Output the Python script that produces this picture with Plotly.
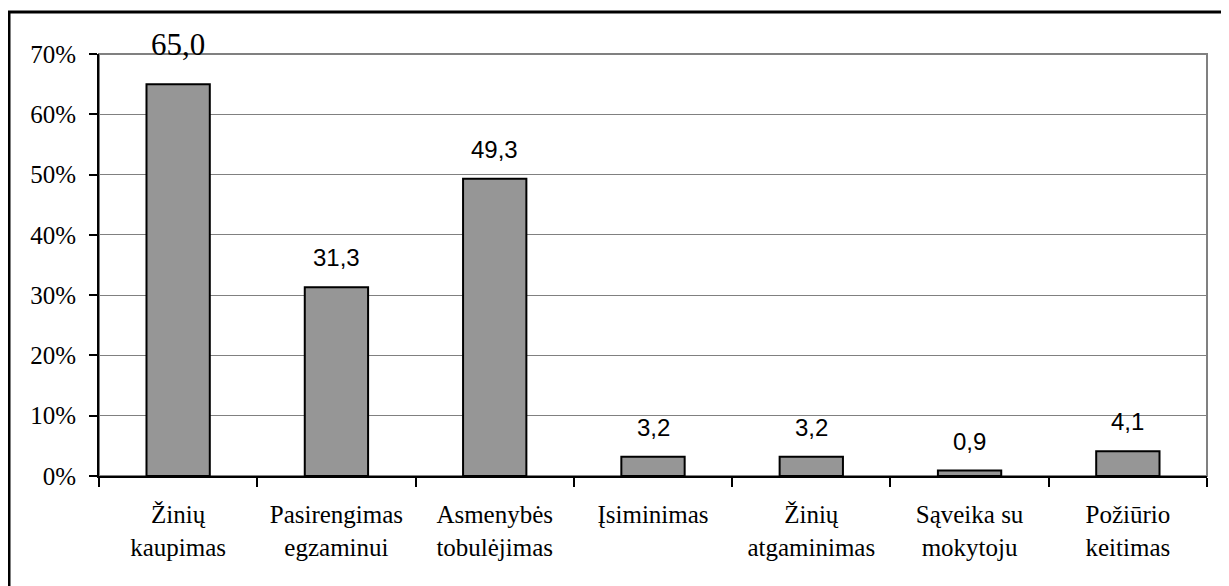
import plotly.graph_objects as go

categories = ["Žinių<br>kaupimas", "Pasirengimas<br>egzaminui", "Asmenybės<br>tobulėjimas",
              "Įsiminimas", "Žinių<br>atgaminimas", "Sąveika su<br>mokytoju", "Požiūrio<br>keitimas"]
values = [65.0, 31.3, 49.3, 3.2, 3.2, 0.9, 4.1]
labels = ["65,0", "31,3", "49,3", "3,2", "3,2", "0,9", "4,1"]
y_ticks = [0, 10, 20, 30, 40, 50, 60, 70]

OFF = 8  # page body margin
W, H = 1229 - OFF, 586 - OFF
L, T = 99 - OFF, 54 - OFF
pw, ph = 1108, 422
R = W - L - pw
B = H - T - ph

fig = go.Figure()
fig.add_trace(go.Bar(
    x=categories, y=values,
    marker=dict(color="#969696", line=dict(color="black", width=2)),
    hoverinfo="skip",
))

serif = "'Times New Roman', 'Liberation Serif', 'DejaVu Serif', serif"
sans = "Arial, 'Liberation Sans', sans-serif"
for i, (c, v, t) in enumerate(zip(categories, values, labels)):
    if i == 0:
        font = dict(family=serif, size=31, color="black")
        shift = 20
    else:
        font = dict(family=sans, size=24, color="black")
        shift = 14
    fig.add_annotation(x=c, y=v, text=t, showarrow=False, yanchor="bottom",
                       yshift=shift, font=font)

def px_x(p):
    return (p - OFF - L) / pw

def px_y(p):
    return (H - B - (p - OFF)) / ph

# outer frame
fig.add_shape(type="rect", xref="paper", yref="paper",
              x0=px_x(9), x1=px_x(1225), y0=px_y(600), y1=px_y(12),
              line=dict(color="black", width=3), layer="above")
# plot area frame (gray)
fig.add_shape(type="rect", xref="paper", yref="paper",
              x0=0, x1=1, y0=0, y1=1,
              line=dict(color="#808080", width=2), layer="below")

fig.update_layout(
    width=W, height=H,
    margin=dict(l=L, r=R, t=T, b=B, pad=0),
    paper_bgcolor="white", plot_bgcolor="white",
    bargap=0.6, showlegend=False,
    font=dict(family=serif, size=25, color="black"),
)
fig.update_xaxes(
    type="category", tickson="boundaries", ticks="outside", ticklen=9,
    tickcolor="black", tickwidth=2, showline=True, linecolor="black", linewidth=2,
    showgrid=False, tickfont=dict(family=serif, size=25, color="black"),
    ticklabelstandoff=15,
)
fig.update_yaxes(
    range=[0, 70], tickvals=y_ticks, ticktext=[f"{v}%" for v in y_ticks],
    ticks="outside", ticklen=8, tickcolor="black", tickwidth=2,
    showline=True, linecolor="black", linewidth=2,
    showgrid=True, gridcolor="#808080", gridwidth=1, zeroline=False,
    tickfont=dict(family=serif, size=25, color="black"),
    ticklabelstandoff=8,
)

fig.write_html("out.html")
